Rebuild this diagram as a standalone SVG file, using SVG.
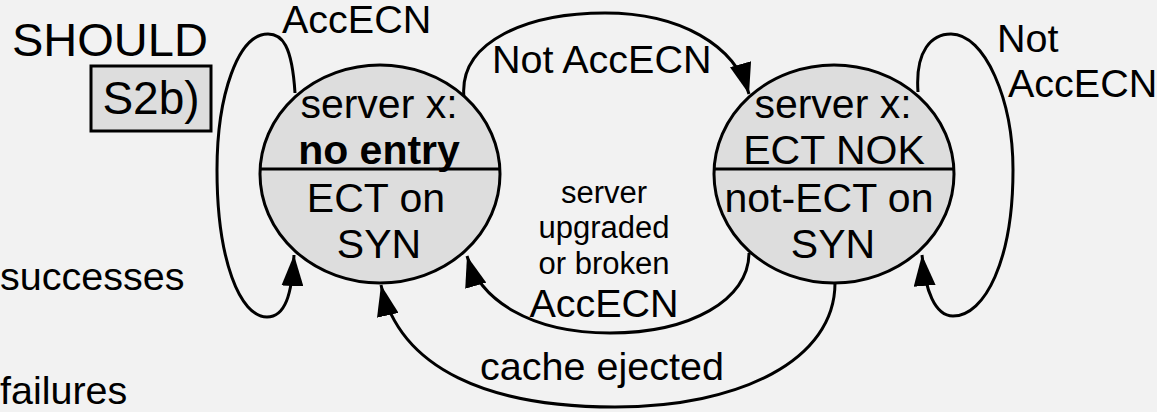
<svg xmlns="http://www.w3.org/2000/svg" width="1157" height="412" viewBox="0 0 1157 412">
<style>
text{font-family:"Liberation Sans",Arial,sans-serif;fill:#000}
.lbl{font-size:39.5px}
.nt{font-size:41px;text-anchor:middle}
.sm{font-size:31px;text-anchor:middle}
.node{fill:#dddddd;stroke:#000;stroke-width:3}
.div{stroke:#000;stroke-width:3}
.edge{fill:none;stroke:#000;stroke-width:3;marker-end:url(#ah)}
</style>
<defs>
<marker id="ah" markerUnits="userSpaceOnUse" markerWidth="32" markerHeight="22" refX="31" refY="11" orient="auto" viewBox="0 0 32 22">
<path d="M0,0 L31,11 L0,22 z" fill="#000"/>
</marker>
</defs>
<rect x="0" y="0" width="1157" height="412" fill="#f2f2f2"/>
<g id="connectors">
<path class="edge" d="M295,93 C292,45 282,34 268,34 C238,34 217,95 217,170 C217,260 240,317 267,317 C285,317 292,295 294,255"/>
<path class="edge" d="M464,98 C458,40 530,13 605,13 C680,13 735,45 749,94"/>
<path class="edge" d="M918,92 C915,50 932,34 951,34 C985,34 1013,100 1013,170 C1013,260 985,316 953,316 C935,316 925,290 922,255"/>
<path class="edge" d="M749,253 C749,300 690,333 610,333 C530,333 480,300 467,256"/>
<path class="edge" d="M835,283 C835,360 740,407 615,407 C490,407 400,370 381,285"/>
</g>
<g id="node-left">
<ellipse class="node" cx="380" cy="174" rx="120" ry="109"/>
<line class="div" x1="260" y1="169" x2="500" y2="169"/>
<text class="nt" x="379" y="118">server x:</text>
<text class="nt" x="379" y="164" font-weight="bold">no entry</text>
<text class="nt" x="376" y="212">ECT on</text>
<text class="nt" x="379" y="258">SYN</text>
</g>
<g id="node-right">
<ellipse class="node" cx="834" cy="174" rx="120" ry="109"/>
<line class="div" x1="714" y1="169" x2="954" y2="169"/>
<text class="nt" x="833" y="118">server x:</text>
<text class="nt" x="834" y="164">ECT NOK</text>
<text class="nt" x="829" y="212">not-ECT on</text>
<text class="nt" x="833" y="258">SYN</text>
</g>
<g id="should">
<text x="12" y="56" style="font-size:47px">SHOULD</text>
<rect x="91" y="66" width="120" height="65" fill="#dddddd" stroke="#000" stroke-width="3"/>
<text x="151" y="114" style="font-size:46px;text-anchor:middle">S2b)</text>
</g>
<g id="labels">
<text class="lbl" x="282" y="33">AccECN</text>
<text class="lbl" x="492" y="73">Not AccECN</text>
<text class="lbl" x="997" y="52">Not</text>
<text class="lbl" x="1008" y="97">AccECN</text>
<text class="sm" x="604" y="203">server</text>
<text class="sm" x="604" y="238">upgraded</text>
<text class="sm" x="604" y="274">or broken</text>
<text class="lbl" x="604" y="317" text-anchor="middle">AccECN</text>
<text class="lbl" x="602" y="380" text-anchor="middle">cache ejected</text>
<text class="lbl" x="0" y="290">successes</text>
<text class="lbl" x="0" y="404">failures</text>
</g>
</svg>
